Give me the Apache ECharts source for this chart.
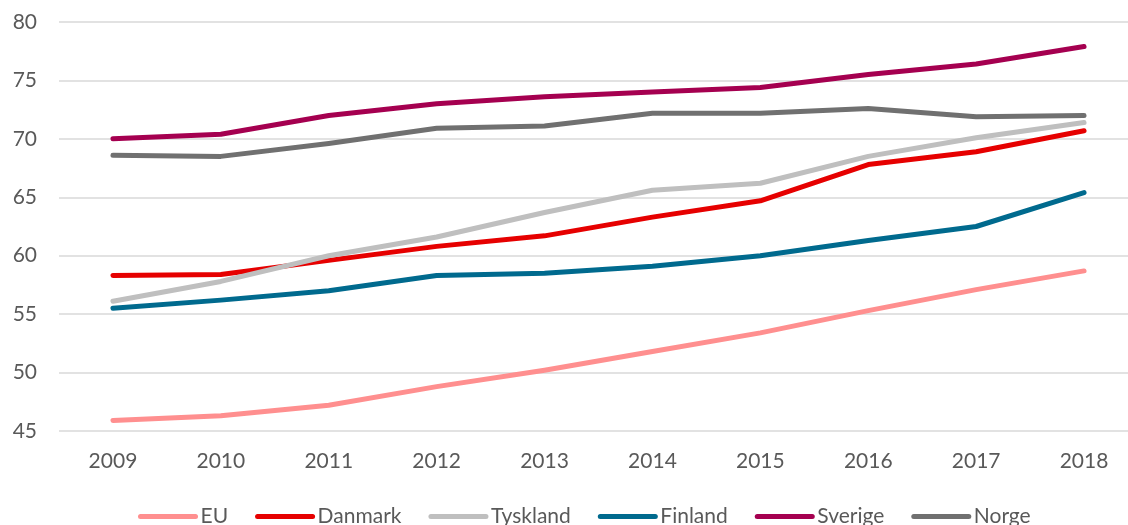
<!DOCTYPE html>
<html>
<meta charset="UTF-8">
<title>line chart</title>
<style type="text/css">
    html,
    body {
        margin: 0px;
        height: 100%;
        width: 100%;
        overflow: hidden;
        background: #ffffff;
    }

    #chart {
        width: 1140px;
        height: 525px;
    }
</style>
<script src="https://cdn.jsdelivr.net/npm/echarts@6/dist/echarts.min.js"></script>

<body>
    <div id="chart"></div>
    <script>
        const years = ['2009', '2010', '2011', '2012', '2013', '2014', '2015', '2016', '2017', '2018'];
        const eu = [45.9, 46.3, 47.2, 48.8, 50.2, 51.8, 53.4, 55.3, 57.1, 58.7];
        const danmark = [58.3, 58.4, 59.6, 60.8, 61.7, 63.3, 64.7, 67.8, 68.9, 70.7];
        const tyskland = [56.1, 57.8, 60.0, 61.6, 63.7, 65.6, 66.2, 68.5, 70.1, 71.4];
        const finland = [55.5, 56.2, 57.0, 58.3, 58.5, 59.1, 60.0, 61.3, 62.5, 65.4];
        const sverige = [70.0, 70.4, 72.0, 73.0, 73.6, 74.0, 74.4, 75.5, 76.4, 77.9];
        const norge = [68.6, 68.5, 69.6, 70.9, 71.1, 72.2, 72.2, 72.6, 71.9, 72.0];

        const seriesDefs = [
            ['EU', eu, '#ff8f8f'],
            ['Danmark', danmark, '#e60000'],
            ['Tyskland', tyskland, '#bfbfbf'],
            ['Finland', finland, '#006a8e'],
            ['Sverige', sverige, '#a50050'],
            ['Norge', norge, '#707070']
        ];

        const font = 'Lato, "Open Sans", sans-serif';
        const chart = echarts.init(document.querySelector('#chart'));
        chart.setOption({
            animation: false,
            grid: { left: 59, top: 22, right: 2, height: 409 },
            legend: {
                top: 501,
                left: 133,
                itemWidth: 55,
                itemHeight: 10,
                itemGap: 27,
                itemStyle: { opacity: 0 },
                lineStyle: { width: 5, cap: 'round' },
                textStyle: { fontFamily: font, fontSize: 21, color: '#595959' },
                data: seriesDefs.map(d => d[0])
            },
            xAxis: {
                type: 'category',
                data: years,
                axisLine: { show: false },
                axisTick: { show: false },
                axisLabel: { fontFamily: font, fontSize: 21, color: '#595959', margin: 20 }
            },
            yAxis: {
                type: 'value',
                min: 45,
                max: 80,
                interval: 5,
                axisLabel: { fontFamily: font, fontSize: 21, color: '#595959', margin: 22 },
                splitLine: { lineStyle: { color: '#d9d9d9', width: 1.5 } }
            },
            series: seriesDefs.map(([name, data, color]) => ({
                name: name,
                type: 'line',
                data: data,
                symbol: 'none',
                color: color,
                lineStyle: { width: 5, cap: 'round', join: 'round' }
            }))
        });
    </script>
</body>

</html>
